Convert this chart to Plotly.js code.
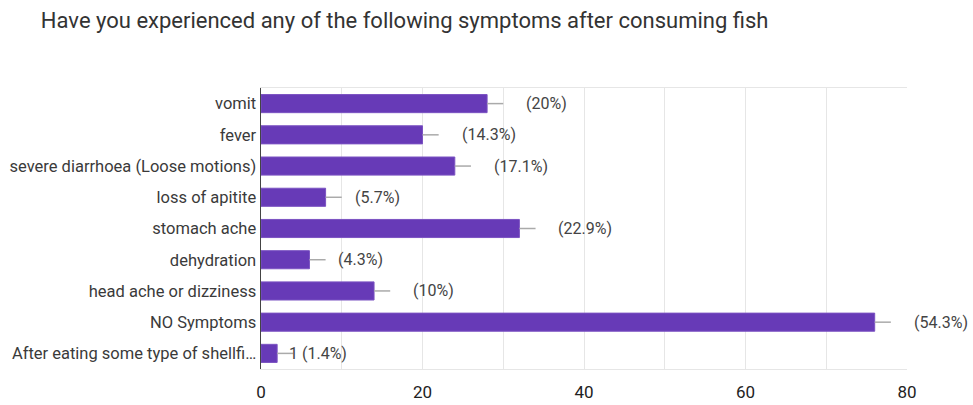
<!DOCTYPE html>
<html>
<head>
<meta charset="utf-8">
<script src="https://cdn.plot.ly/plotly-3.0.1.min.js"></script>
<style>html,body{margin:0;padding:0;background:#fff;}#chart{width:973px;height:405px;}</style>
</head>
<body>
<div id="chart"></div>
<script>
const categories = [
  "vomit",
  "fever",
  "severe diarrhoea (Loose motions)",
  "loss of apitite",
  "stomach ache",
  "dehydration",
  "head ache or dizziness",
  "NO Symptoms",
  "After eating some type of shellfi…"
];
const counts = [28, 20, 24, 8, 32, 6, 14, 76, 2];
const labels = ["(20%)", "(14.3%)", "(17.1%)", "(5.7%)", "(22.9%)", "(4.3%)", "(10%)", "(54.3%)", "1 (1.4%)"];
const xTicks = [0, 20, 40, 60, 80];

const font = "Roboto, 'Liberation Sans', Arial, sans-serif";

const trace = {
  type: "bar",
  orientation: "h",
  x: counts,
  y: categories,
  width: 0.58,
  marker: {color: "#673ab7", line: {color: "#7b52c2", width: 1}},
  error_x: {type: "constant", value: 2, symmetric: false, valueminus: 0, color: "#aaaaaa", thickness: 1.5, width: 0},
  hoverinfo: "none"
};

// label offset: hidden count digits take extra room
const annotations = categories.map((c, i) => ({
  x: counts[i],
  y: c,
  xref: "x",
  yref: "y",
  text: labels[i],
  showarrow: false,
  xanchor: "left",
  xshift: i === categories.length - 1 ? 10 : (String(counts[i]).length > 1 ? 37 : 27),
  font: {family: font, size: 16, color: "#444"}
}));

const layout = {
  width: 973,
  height: 405,
  margin: {l: 261, r: 66, t: 88, b: 36},
  paper_bgcolor: "#fff",
  plot_bgcolor: "#fff",
  title: {
    text: "Have you experienced any of the following symptoms after consuming fish",
    font: {family: font, size: 22, color: "#333"},
    x: 0.042, xanchor: "left", xref: "container",
    y: 0.95, yanchor: "middle", yref: "container"
  },
  xaxis: {
    range: [0, 80],
    tickvals: xTicks,
    ticktext: xTicks.map(String),
    showgrid: true,
    gridcolor: "#e6e6e6",
    minor: {dtick: 10, showgrid: true, gridcolor: "#e6e6e6"},
    zeroline: false,
    showline: true,
    linecolor: "#e6e6e6",
    mirror: true,
    ticks: "",
    ticklabelstandoff: 8,
    tickfont: {family: font, size: 17, color: "#222"},
    fixedrange: true
  },
  yaxis: {
    autorange: "reversed",
    showgrid: false,
    zeroline: false,
    showline: true,
    linecolor: "#444",
    linewidth: 1.5,
    ticks: "",
    ticklabelstandoff: 0,
    tickfont: {family: font, size: 16.5, color: "#3a3a3a"},
    fixedrange: true
  },
  annotations: annotations,
  showlegend: false,
  bargap: 0.42
};

Plotly.newPlot("chart", [trace], layout, {displayModeBar: false, staticPlot: true});
</script>
</body>
</html>
